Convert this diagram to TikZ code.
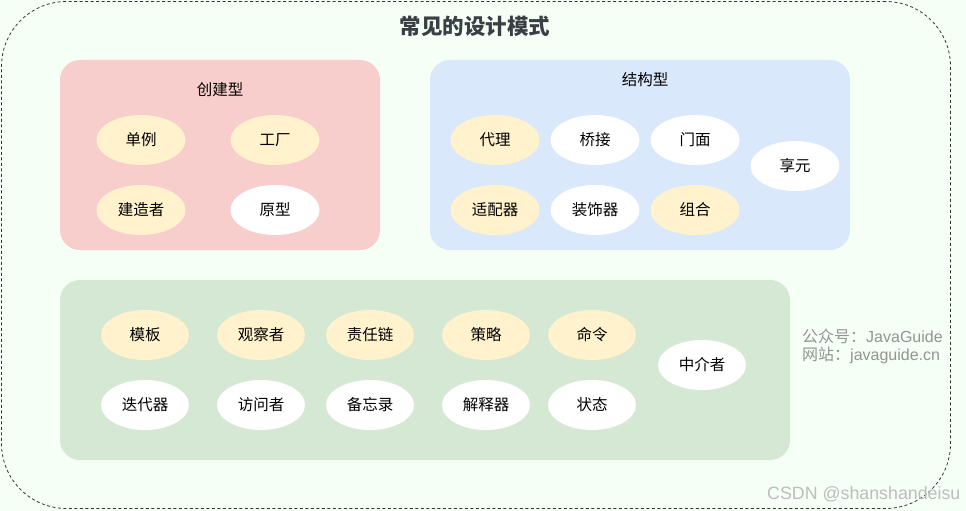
\documentclass[tikz,border=0pt]{standalone}
\usepackage{fontspec}
\setmainfont{Liberation Sans}
\newfontfamily\cjk{Noto Sans CJK SC}
\usetikzlibrary{shapes.geometric}
\definecolor{bgmint}{HTML}{F5FFF6}
\definecolor{redbox}{HTML}{F8CECC}
\definecolor{bluebox}{HTML}{DAE8FC}
\definecolor{greenbox}{HTML}{D5E8D4}
\definecolor{yel}{HTML}{FFF2CC}
\definecolor{titlegray}{HTML}{3A3F45}
\tikzset{
  group/.style={rectangle, rounded corners=20pt, inner sep=0pt, draw=none},
  pat/.style={ellipse, minimum width=89pt, minimum height=50pt, inner sep=0pt, draw=none, font=\cjk\fontsize{15.5}{17}\selectfont, text=black},
  hot/.style={pat, fill=yel},
  cold/.style={pat, fill=white},
  gtitle/.style={font=\cjk\fontsize{15.5}{17}\selectfont, text=black},
  wm/.style={font=\fontsize{16}{18}\selectfont, text=black!42, anchor=west, inner sep=0pt}
}
\begin{document}
\begin{tikzpicture}[x=1pt, y=-1pt]
\useasboundingbox (0,0) rectangle (966,511);
\fill[bgmint] (0,0) rectangle (966,511);
\node[rectangle, rounded corners=65pt, draw=black!80, dash pattern=on 3pt off 2.5pt, line width=0.8pt, minimum width=949pt, minimum height=507pt, inner sep=0pt] (outer) at (476,255) {};
\node[font=\cjk\bfseries\fontsize{21.5}{23}\selectfont, text=titlegray] (title) at (475,26) {常见的设计模式};

% creational
\node[group, fill=redbox, minimum width=320pt, minimum height=190pt] (cre) at (220,155) {};
\node[gtitle] (cretitle) at (220,90) {创建型};
\node[hot] (singleton) at (141,140) {单例};
\node[hot] (factory) at (275,140) {工厂};
\node[hot] (builder) at (141,210) {建造者};
\node[cold] (prototype) at (275,210) {原型};

% structural
\node[group, fill=bluebox, minimum width=420pt, minimum height=190pt] (str) at (640,155) {};
\node[gtitle] (strtitle) at (645,80) {结构型};
\node[hot] (proxy) at (495,140) {代理};
\node[cold] (bridge) at (595,140) {桥接};
\node[cold] (facade) at (695,140) {门面};
\node[cold] (flyweight) at (795,166) {享元};
\node[hot] (adapter) at (495,210) {适配器};
\node[cold] (decorator) at (595,210) {装饰器};
\node[hot] (composite) at (695,210) {组合};

% behavioral
\node[group, fill=greenbox, minimum width=730pt, minimum height=180pt] (beh) at (425,370) {};
\node[hot, minimum width=88pt] (template) at (145,335) {模板};
\node[hot, minimum width=88pt] (observer) at (261,335) {观察者};
\node[hot, minimum width=88pt] (chain) at (370,335) {责任链};
\node[hot, minimum width=88pt] (strategy) at (486,335) {策略};
\node[hot, minimum width=88pt] (command) at (592,335) {命令};
\node[cold, minimum width=88pt] (mediator) at (702,365) {中介者};
\node[cold, minimum width=88pt] (iterator) at (145,405) {迭代器};
\node[cold, minimum width=88pt] (visitor) at (261,405) {访问者};
\node[cold, minimum width=88pt] (memento) at (370,405) {备忘录};
\node[cold, minimum width=88pt] (interpreter) at (486,405) {解释器};
\node[cold, minimum width=88pt] (state) at (592,405) {状态};

% watermarks
\node[wm] (wm1) at (802,336) {{\cjk 公众号：}JavaGuide};
\node[wm] (wm2) at (802,355) {{\cjk 网站：}javaguide.cn};
\node[wm, text=black!26, font=\fontsize{17.8}{19}\selectfont] (csdn) at (767,494) {CSDN @shanshandeisu};
\end{tikzpicture}
\end{document}
